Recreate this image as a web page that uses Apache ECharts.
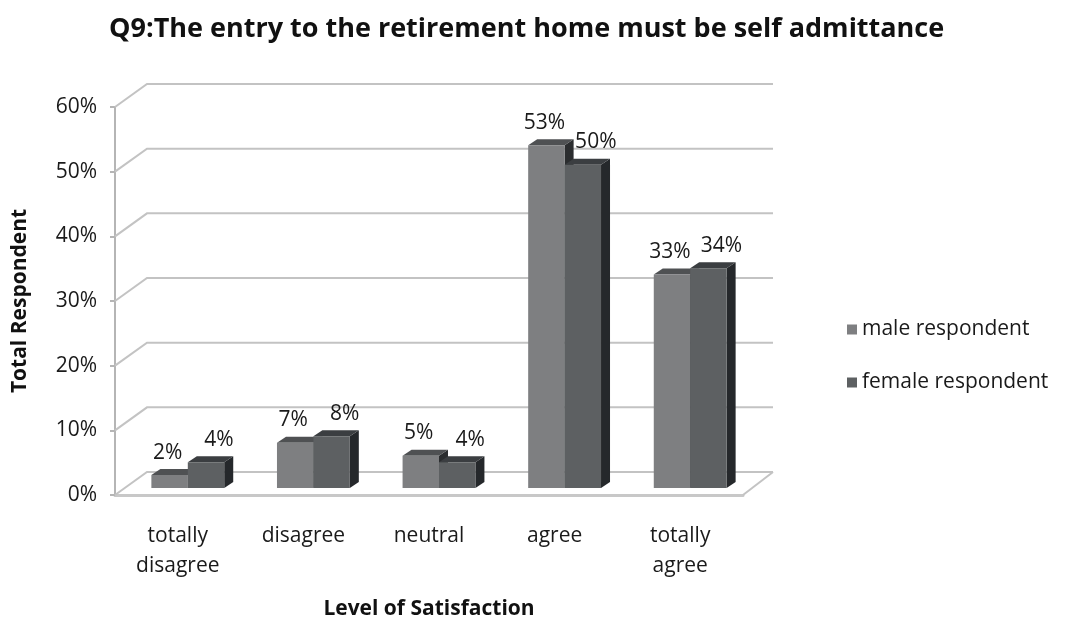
<!DOCTYPE html>
<html>
<head>
<meta charset="utf-8">
<script src="https://cdn.jsdelivr.net/npm/echarts@6/dist/echarts.min.js"></script>
<style>
  html, body { margin: 0; padding: 0; background: #ffffff; }
  #chart { width: 1076px; height: 621px; }
</style>
</head>
<body>
<div id="chart"></div>
<script>
// Survey answers, share of respondents in percent
const categories = ['totally\ndisagree', 'disagree', 'neutral', 'agree', 'totally\nagree'];
const maleValues = [2, 7, 5, 53, 33];
const femaleValues = [4, 8, 4, 50, 34];
const seriesNames = ['male respondent', 'female respondent'];
const yTicks = [0, 10, 20, 30, 40, 50, 60];

const FONT = '"Open Sans", sans-serif';

// 3D look: back wall offset and bar plane offset (pixels)
const WALL = [32, -23];
const BAR_PLANE = [10, -7];
const BAR_DEPTH = [9, -6];

const palette = {
  male:   { front: '#7e7f81', top: '#4f5153', side: '#2b2d2f' },
  female: { front: '#5d6062', top: '#3b3e41', side: '#25282b' }
};

function frameItem(params, api) {
  const cs = params.coordSys;
  const v = api.value(0);
  const y = api.coord([0, v])[1];
  const x0 = cs.x, x1 = cs.x + cs.width;
  const style = { stroke: '#c3c3c3', lineWidth: 2, fill: null };
  const children = [
    { type: 'polyline', shape: { points: [[x0, y], [x0 + WALL[0], y + WALL[1]], [x1 + WALL[0] - 2, y + WALL[1]]] }, style: style }
  ];
  if (v === 0) {
    children.push({ type: 'line', shape: { x1: x1, y1: y, x2: x1 + WALL[0] - 2, y2: y + WALL[1] }, style: style });
  }
  return { type: 'group', children: children };
}

function barItem(isMale) {
  const c = isMale ? palette.male : palette.female;
  return function (params, api) {
    const cat = api.value(0), val = api.value(1);
    const top = api.coord([cat, val]);
    const base = api.coord([cat, 0]);
    const band = api.size([1, 0])[0];
    const w = band * 0.29;
    const x = top[0] + (isMale ? -w : 0) + BAR_PLANE[0];
    const yt = top[1] + BAR_PLANE[1];
    const yb = base[1] + BAR_PLANE[1];
    const dx = BAR_DEPTH[0], dy = BAR_DEPTH[1];
    return {
      type: 'group',
      children: [
        { type: 'polygon', shape: { points: [[x + w, yt], [x + w + dx, yt + dy], [x + w + dx, yb + dy], [x + w, yb]] }, style: { fill: c.side } },
        { type: 'polygon', shape: { points: [[x, yt], [x + dx, yt + dy], [x + w + dx, yt + dy], [x + w, yt]] }, style: { fill: c.top } },
        { type: 'rect', shape: { x: x, y: yt, width: w, height: yb - yt }, style: { fill: c.front } },
        { type: 'text', x: x + w / 2 + (isMale ? -2 : 13), y: yt - 12,
          style: { text: val + '%', fill: '#1a1a1a', font: '21px ' + FONT, textAlign: 'center', textVerticalAlign: 'bottom' } }
      ]
    };
  };
}

const chart = echarts.init(document.getElementById('chart'), null, { renderer: 'canvas' });

chart.setOption({
  animation: false,
  backgroundColor: '#ffffff',
  textStyle: { fontFamily: FONT },
  title: {
    text: 'Q9:The entry to the retirement home must be self admittance',
    left: 104, top: 11,
    textStyle: { fontFamily: FONT, fontSize: 27, fontWeight: 'bold', color: '#111' }
  },
  legend: {
    orient: 'vertical',
    left: 842, top: 314,
    itemWidth: 10, itemHeight: 10, itemGap: 32,
    icon: 'rect',
    data: seriesNames,
    textStyle: { fontFamily: FONT, fontSize: 21, color: '#1a1a1a' }
  },
  grid: { left: 115, right: 333, top: 107, bottom: 126, containLabel: false, outerBoundsMode: 'none' },
  xAxis: {
    type: 'category',
    data: categories,
    name: 'Level of Satisfaction',
    nameLocation: 'middle',
    nameGap: 104,
    nameTextStyle: { fontFamily: FONT, fontSize: 21, fontWeight: 'bold', color: '#111' },
    axisLine: { lineStyle: { color: '#c8c8c8', width: 3 } },
    axisTick: { show: false },
    axisLabel: { fontFamily: FONT, fontSize: 21, color: '#1a1a1a', margin: 26, lineHeight: 30 }
  },
  yAxis: {
    type: 'value',
    min: 0, max: 60, interval: 10,
    name: 'Total Respondent',
    nameLocation: 'middle',
    nameGap: 84,
    nameTextStyle: { fontFamily: FONT, fontSize: 21, fontWeight: 'bold', color: '#111' },
    axisLine: { show: true, lineStyle: { color: '#b5b5b5', width: 2 } },
    axisTick: { show: true, length: 5, lineStyle: { color: '#b5b5b5', width: 2 } },
    splitLine: { show: false },
    axisLabel: { fontFamily: FONT, fontSize: 21, color: '#1a1a1a', margin: 18, formatter: '{value}%' }
  },
  series: [
    {
      type: 'custom',
      name: 'frame',
      silent: true,
      z: 1,
      data: yTicks.map(function (v) { return [v]; }),
      encode: { y: 0 },
      renderItem: frameItem
    },
    {
      type: 'custom',
      name: seriesNames[0],
      z: 3,
      itemStyle: { color: palette.male.front },
      data: maleValues.map(function (v, i) { return [i, v]; }),
      encode: { x: 0, y: 1 },
      renderItem: barItem(true)
    },
    {
      type: 'custom',
      name: seriesNames[1],
      z: 4,
      itemStyle: { color: palette.female.front },
      data: femaleValues.map(function (v, i) { return [i, v]; }),
      encode: { x: 0, y: 1 },
      renderItem: barItem(false)
    }
  ]
});
</script>
</body>
</html>
